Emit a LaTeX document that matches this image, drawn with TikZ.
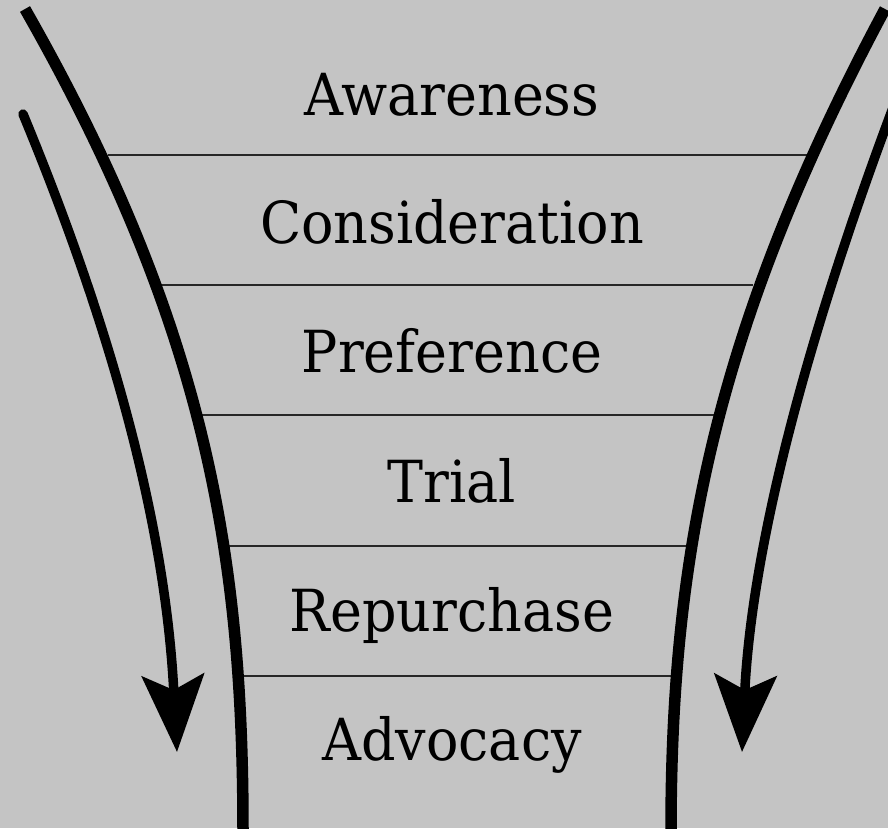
\documentclass[tikz,border=0pt]{standalone}
\usepackage{fontspec}
\setmainfont[FakeStretch=0.93]{DejaVu Serif}
\usetikzlibrary{arrows.meta}
\definecolor{bggray}{RGB}{196,196,196}
\begin{document}
\begin{tikzpicture}[x=1pt,y=-1pt,
  wall/.style={line width=11.5pt},
  flow/.style={line width=9.5pt, line cap=round,
    -{Stealth[length=77pt,width=62pt,inset=15pt]}},
  divider/.style={line width=1.5pt, draw=black!85},
  stage/.style={anchor=base, inner sep=0pt,
    font=\fontsize{58}{60}\selectfont}]
\fill[bggray] (0,0) rectangle (888,828);
\useasboundingbox (0,0) rectangle (888,828);
\clip (0,0) rectangle (888,828);

% ends of the two funnel walls
\coordinate (ltop) at (25,9);   \coordinate (rtop) at (885,9);
\coordinate (lbot) at (243,832); \coordinate (rbot) at (671,832);

% where each divider meets the walls
\coordinate (l1) at (108,155); \coordinate (r1) at (807,155);
\coordinate (l2) at (160,285); \coordinate (r2) at (753,285);
\coordinate (l3) at (199,415); \coordinate (r3) at (716,415);
\coordinate (l4) at (223,546); \coordinate (r4) at (691,546);
\coordinate (l5) at (238,676); \coordinate (r5) at (676,676);

% stage dividers
\draw[divider] (l1) -- (r1);
\draw[divider] (l2) -- (r2);
\draw[divider] (l3) -- (r3);
\draw[divider] (l4) -- (r4);
\draw[divider] (l5) -- (r5);

% funnel walls
\draw[wall] (ltop) .. controls (208,330) and (243,560) .. (lbot);
\draw[wall] (rtop) .. controls (713,330) and (671,560) .. (rbot);

% stage labels
\node[stage] (awareness)     at (452,115) {Awareness};
\node[stage] (consideration) at (452,243) {Consideration};
\node[stage] (preference)    at (452,372) {Preference};
\node[stage] (trial)         at (452,502) {Trial};
\node[stage] (repurchase)    at (452,631) {Repurchase};
\node[stage] (advocacy)      at (452,760) {Advocacy};

% flow arrows beside the funnel
\coordinate (lstart) at (23,114);  \coordinate (ltip) at (177,752);
\coordinate (rstart) at (894,105); \coordinate (rtip) at (742,752);
\draw[flow] (lstart) .. controls (148,416) and (169,600) .. (ltip);
\draw[flow] (rstart) .. controls (777,417) and (749,600) .. (rtip);
\end{tikzpicture}
\end{document}
